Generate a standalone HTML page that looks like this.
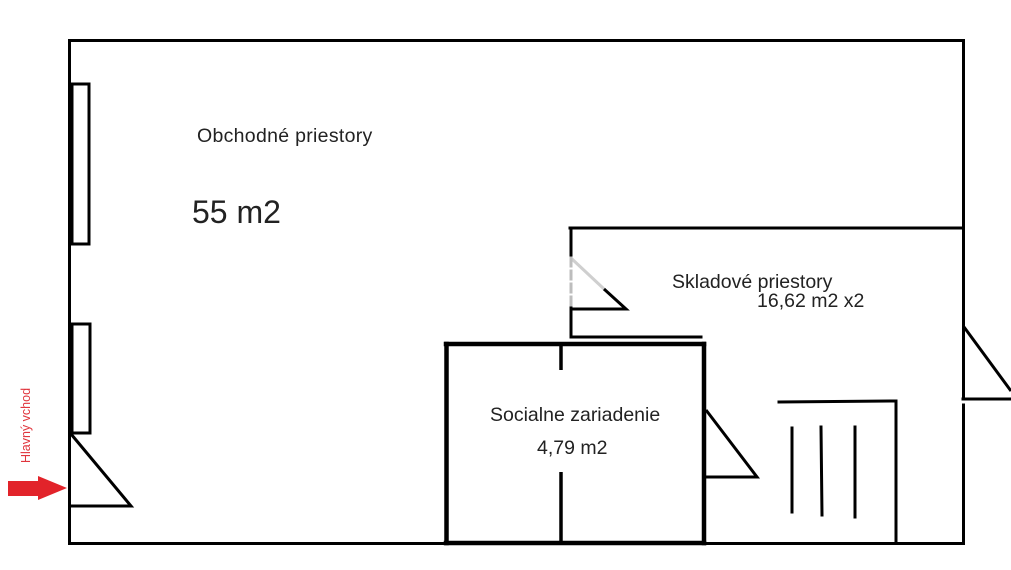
<!DOCTYPE html>
<html><head><meta charset="utf-8"><style>
html,body{margin:0;padding:0;background:#fff;}
svg{display:block;}
text{font-family:"Liberation Sans",sans-serif;fill:#222;}
</style></head><body>
<svg width="1011" height="570" viewBox="0 0 1011 570" xmlns="http://www.w3.org/2000/svg">
<g stroke="#000" stroke-width="3" fill="none" stroke-linecap="square">
  <!-- outer walls -->
  <line x1="69.5" y1="40.5" x2="963.5" y2="40.5"/>
  <line x1="69.5" y1="40.5" x2="69.5" y2="543.5"/>
  <line x1="69.5" y1="543.5" x2="963.5" y2="543.5"/>
  <line x1="963.5" y1="40.5" x2="963.5" y2="326"/>
  <line x1="963.5" y1="405" x2="963.5" y2="543.5"/>
  <!-- left thicker segment -->
  <line x1="71" y1="324" x2="71" y2="434"/>
  <!-- windows -->
  <rect x="72" y="84" width="17" height="160"/>
  <rect x="72" y="324" width="18" height="109"/>
  <!-- left door -->
  <polyline points="71,434 131,506 71,506" stroke-linecap="butt" stroke-linejoin="miter"/>
  <!-- right door -->
  <polyline points="964,327 1011,391" stroke-linecap="butt"/>
  <line x1="963.5" y1="327" x2="963.5" y2="399"/>
  <line x1="963" y1="399" x2="1011" y2="399"/>
  <!-- storage room -->
  <line x1="570" y1="228" x2="963" y2="228"/>
  <line x1="571" y1="228" x2="571" y2="258"/>
  <line x1="571" y1="305" x2="571" y2="337"/>
  <line x1="571" y1="337" x2="701" y2="337"/>
  <!-- storage door -->
  <line x1="572" y1="259" x2="604" y2="289" stroke="#cfcfcf"/>
  <line x1="571" y1="258" x2="571" y2="305" stroke="#bdbdbd" stroke-dasharray="8,5"/>
  <polyline points="604,289 626,309 572,309" stroke-linecap="butt"/>
  <!-- stairs -->
  <line x1="779" y1="402" x2="896" y2="401"/>
  <line x1="896" y1="401" x2="896" y2="543"/>
  <line x1="792" y1="428" x2="792" y2="512"/>
  <line x1="821" y1="427" x2="822" y2="515"/>
  <line x1="855" y1="427" x2="855" y2="517"/>
  <!-- door right of social -->
  <polyline points="706,410 757,477 706,477" stroke-linecap="butt"/>
</g>
<g stroke="#000" stroke-width="4.5" fill="none" stroke-linecap="square">
  <!-- social room -->
  <line x1="446" y1="344" x2="704" y2="344"/>
  <line x1="446.5" y1="344" x2="446.5" y2="543"/>
  <line x1="704" y1="344" x2="704" y2="543"/>
  <line x1="446" y1="543" x2="704" y2="543"/>
</g>
<g stroke="#000" stroke-width="3.5" fill="none">
  <line x1="561" y1="343" x2="561" y2="370"/>
  <line x1="561" y1="472" x2="561" y2="543"/>
</g>
<!-- arrow -->
<polygon points="8,481 38,481 38,476 67,488 38,500 38,496 8,496" fill="#e2232a"/>
<!-- texts -->
<text x="197" y="142" font-size="19.5" letter-spacing="0.3">Obchodné priestory</text>
<text x="192" y="223" font-size="32">55 m2</text>
<text x="672" y="288" font-size="19.5">Skladové priestory</text>
<text x="757" y="307" font-size="19.5">16,62 m2 x2</text>
<text x="490" y="421" font-size="19.5">Socialne zariadenie</text>
<text x="537" y="454" font-size="19.5">4,79 m2</text>
<text transform="translate(30,463) rotate(-90)" font-size="12.5" style="fill:#e0353d">Hlavný vchod</text>
</svg>
</body></html>
